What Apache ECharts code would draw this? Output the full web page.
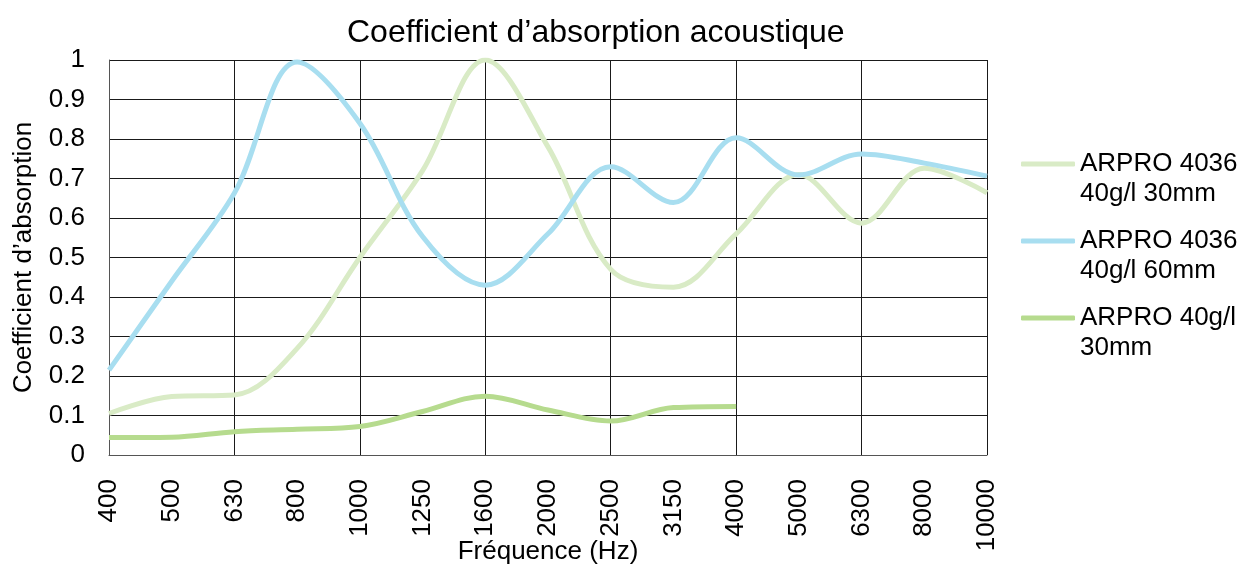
<!DOCTYPE html>
<html>
<head>
<meta charset="utf-8">
<script src="https://cdn.jsdelivr.net/npm/echarts@6/dist/echarts.min.js"></script>
<style>
  html, body { margin: 0; padding: 0; background: #fff; }
  #chart { width: 1238px; height: 565px; }
</style>
</head>
<body>
<div id="chart"></div>
<script>
// fréquences (Hz)
var frequences = ['400', '500', '630', '800', '1000', '1250', '1600', '2000', '2500', '3150', '4000', '5000', '6300', '8000', '10000'];
var noms = ['ARPRO 4036\n40g/l 30mm', 'ARPRO 4036\n40g/l 60mm', 'ARPRO 40g/l\n30mm'];
var arpro4036_30 = [0.105, 0.148, 0.152, 0.27, 0.50, 0.72, 1.0, 0.78, 0.47, 0.425, 0.56, 0.71, 0.587, 0.726, 0.664];
var arpro4036_60 = [0.215, 0.44, 0.663, 0.995, 0.84, 0.553, 0.43, 0.56, 0.73, 0.639, 0.803, 0.709, 0.762, 0.739, 0.706];
var arpro40_30 = [0.044, 0.045, 0.059, 0.065, 0.072, 0.11, 0.149, 0.114, 0.086, 0.12, 0.123, null, null, null, null];

var police = 'Liberation Sans, Arial, sans-serif';
var myChart = echarts.init(document.getElementById('chart'));

var option = {
    animation: false,
    color: ['#d9ebc6', '#a8def0', '#b6db8e'],
    title: {
        text: 'Coefficient d’absorption acoustique',
        left: 342,
        top: 12,
        textStyle: { fontFamily: police, fontSize: 32, fontWeight: 'normal', color: '#000' }
    },
    grid: { left: 109, right: 251, top: 60, bottom: 110, outerBoundsMode: 'none' },
    legend: {
        orient: 'vertical',
        left: 1016,
        top: 114,
        icon: 'roundRect',
        itemWidth: 54,
        itemHeight: 5,
        itemGap: -13,
        // ligne vide en tête pour aligner la première ligne sur le trait
        formatter: function (n) { return ' \n' + n; },
        textStyle: { fontFamily: police, fontSize: 26, color: '#000', lineHeight: 30 },
        data: noms
    },
    xAxis: {
        type: 'category',
        boundaryGap: false,
        data: frequences,
        name: 'Fréquence (Hz)',
        nameLocation: 'middle',
        nameGap: 84,
        nameMoveOverlap: false,
        nameTextStyle: { fontFamily: police, fontSize: 26, color: '#000' },
        axisLine: { lineStyle: { color: '#555', width: 1 } },
        axisTick: { show: false },
        axisLabel: { interval: 0, rotate: 90, margin: 24, fontFamily: police, fontSize: 26, color: '#000' },
        splitLine: { show: true, interval: 1, lineStyle: { color: '#1a1a1a', width: 1 } }
    },
    yAxis: {
        type: 'value',
        min: 0,
        max: 1,
        interval: 0.1,
        name: 'Coefficient d’absorption',
        nameLocation: 'middle',
        nameGap: 72,
        nameTextStyle: { fontFamily: police, fontSize: 26, color: '#000' },
        axisLine: { show: true, lineStyle: { color: '#555', width: 1 } },
        axisTick: { show: false },
        axisLabel: { margin: 24, fontFamily: police, fontSize: 26, color: '#000' },
        splitLine: { lineStyle: { color: '#1a1a1a', width: 1 } }
    },
    series: [
        { name: noms[0], type: 'line', smooth: 0.35, showSymbol: false, lineStyle: { width: 5 }, data: arpro4036_30 },
        { name: noms[1], type: 'line', smooth: 0.35, showSymbol: false, lineStyle: { width: 5 }, data: arpro4036_60 },
        { name: noms[2], type: 'line', smooth: 0.35, showSymbol: false, lineStyle: { width: 5 }, data: arpro40_30 }
    ]
};
myChart.setOption(option);
</script>
</body>
</html>
